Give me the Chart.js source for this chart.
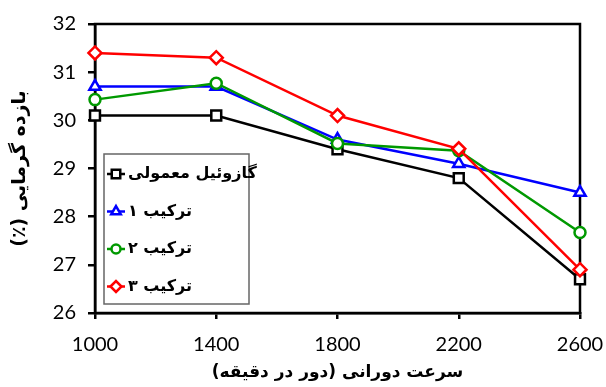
<!DOCTYPE html>
<html>
<head>
<meta charset="utf-8">
<script src="https://cdn.jsdelivr.net/npm/chart.js@4/dist/chart.umd.min.js"></script>
<style>
  html, body { margin: 0; padding: 0; background: #fff; }
  #wrap { width: 606px; height: 387px; }
</style>
</head>
<body>
<div id="wrap"><canvas id="chart" width="606" height="387" dir="rtl"></canvas></div>
<script>
// speeds (rpm) and thermal efficiency (%) per fuel
const speeds = ['1000', '1400', '1800', '2200', '2600'];
const diesel = [30.1, 30.1, 29.4, 28.8, 26.7];
const blend1 = [30.7, 30.7, 29.6, 29.1, 28.5];
const blend2 = [30.43, 30.77, 29.52, 29.37, 27.67];
const blend3 = [31.4, 31.3, 30.1, 29.41, 26.9];
const seriesNames = ['گازوئیل معمولی', 'ترکیب ۱', 'ترکیب ۲', 'ترکیب ۳'];

const xTitle = 'سرعت دورانی (دور در دقیقه)';
const yTitle = 'بازده گرمایی (٪)';

const tickFont = { family: 'Lato', size: 20, weight: 'normal' };
const faFont = '"DejaVu Sans"';

// marker sizes per style
const radiusFor = { rect: 7, triangle: 6.5, circle: 5.5, rectRot: 6.5 };

function makeSet(label, data, color, style, order) {
    return {
        label: label,
        data: data,
        borderColor: color,
        backgroundColor: '#fff',
        borderWidth: 2.5,
        pointStyle: style,
        pointRadius: radiusFor[style],
        pointBorderWidth: 2.5,
        pointBorderColor: color,
        pointBackgroundColor: '#fff',
        tension: 0,
        fill: false,
        clip: false,
        order: order
    };
}

// frame around plot area + legend box inside it
const framePlugin = {
    id: 'frame',
    beforeDatasetsDraw(chart) {
        const { ctx, chartArea: a } = chart;
        ctx.save();
        ctx.strokeStyle = '#000';
        ctx.lineWidth = 2.5;
        ctx.strokeRect(a.left, a.top, a.right - a.left, a.bottom - a.top);
        ctx.restore();
    },
    afterDatasetsDraw(chart) {
        const { ctx } = chart;
        ctx.save();
        const bx = 104, by = 154, bw = 145, bh = 150;
        ctx.fillStyle = '#fff';
        ctx.fillRect(bx, by, bw, bh);
        ctx.strokeStyle = '#666';
        ctx.lineWidth = 1.5;
        ctx.strokeRect(bx, by, bw, bh);

        chart.data.datasets.forEach((ds, i) => {
            const y = by + 20 + i * 37.5;
            ctx.strokeStyle = ds.borderColor;
            ctx.lineWidth = 2.5;
            ctx.beginPath();
            ctx.moveTo(bx + 3, y);
            ctx.lineTo(bx + 21, y);
            ctx.stroke();
            ctx.fillStyle = '#fff';
            Chart.helpers.drawPoint(ctx, {
                pointStyle: ds.pointStyle,
                radius: ds.pointRadius - 1,
                borderWidth: 2.5,
                rotation: 0
            }, bx + 12, y);
            ctx.fillStyle = '#000';
            ctx.font = 'bold 16px ' + faFont;
            ctx.direction = 'rtl';
            ctx.textAlign = 'left';
            ctx.textBaseline = 'middle';
            ctx.fillText(ds.label, bx + 24, y);
        });
        ctx.restore();
    }
};

new Chart(document.getElementById('chart'), {
    type: 'line',
    data: {
        labels: speeds,
        datasets: [
            makeSet(seriesNames[0], diesel, '#000000', 'rect', 3),
            makeSet(seriesNames[1], blend1, '#0000ff', 'triangle', 2),
            makeSet(seriesNames[2], blend2, '#009900', 'circle', 1),
            makeSet(seriesNames[3], blend3, '#ff0000', 'rectRot', 0)
        ]
    },
    options: {
        responsive: false,
        animation: false,
        layout: { padding: { top: 20, right: 0, left: 0, bottom: 0 } },
        plugins: {
            legend: { display: false },
            tooltip: { enabled: false }
        },
        scales: {
            x: {
                type: 'category',
                offset: false,
                afterFit: (s) => { s.height = 74; s.paddingRight = 26; s.paddingLeft = 0; },
                border: { color: '#000', width: 2.5 },
                grid: { drawOnChartArea: false, drawTicks: true, tickLength: 6, color: '#000', lineWidth: 2.5 },
                ticks: { color: '#000', font: tickFont, padding: 14, maxRotation: 0 },
                title: {
                    display: true,
                    text: xTitle,
                    color: '#000',
                    font: { family: 'DejaVu Sans', size: 17, weight: 'bold' },
                    padding: { top: 0, bottom: 4 }
                }
            },
            y: {
                min: 26,
                max: 32,
                afterFit: (s) => { s.width = 95; },
                border: { color: '#000', width: 2.5 },
                grid: { drawOnChartArea: false, drawTicks: true, tickLength: 7, color: '#000', lineWidth: 2.5 },
                ticks: { stepSize: 1, color: '#000', font: tickFont, padding: 12 },
                title: {
                    display: true,
                    text: yTitle,
                    color: '#000',
                    font: { family: 'DejaVu Sans', size: 19, weight: 'bold' },
                    padding: { top: 9, bottom: 0 }
                }
            }
        }
    },
    plugins: [framePlugin]
});
</script>
</body>
</html>
